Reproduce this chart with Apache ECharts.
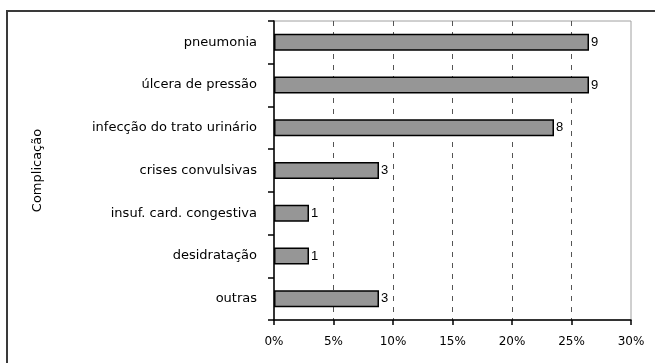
<!DOCTYPE html>
<html>
<head>
<meta charset="utf-8">
<script src="https://cdn.jsdelivr.net/npm/echarts@6/dist/echarts.min.js"></script>
<style>
  html, body { margin: 0; padding: 0; background: #fff; }
  #chart { width: 655px; height: 363px; }
</style>
</head>
<body>
<div id="chart"></div>
<script>
// Complications, listed top to bottom
const categories = [
  'pneumonia',
  'úlcera de pressão',
  'infecção do trato urinário',
  'crises convulsivas',
  'insuf. card. congestiva',
  'desidratação',
  'outras'
];
// Number of cases per complication
const counts = [9, 9, 8, 3, 1, 1, 3];
// Percentage axis ticks
const xTicks = { min: 0, max: 30, step: 5 };

const total = counts.reduce((a, b) => a + b, 0);
const shares = counts.map(c => c / total * 100);

const chart = echarts.init(document.getElementById('chart'), null, { renderer: 'canvas' });
const fontFamily = '"Liberation Sans", Arial, sans-serif';
const wideFont = '"DejaVu Sans", sans-serif';

chart.setOption({
  animation: false,
  backgroundColor: '#fff',
  graphic: [{
    type: 'rect',
    shape: { x: 7, y: 11, width: 700, height: 400 },
    style: { fill: 'none', stroke: '#3a3a3a', lineWidth: 2 },
    z: 100
  }],
  grid: {
    left: 274, right: 24, top: 21, bottom: 43,
    show: true, borderColor: '#a0a0a0', borderWidth: 1, backgroundColor: '#fff'
  },
  xAxis: {
    type: 'value',
    min: xTicks.min, max: xTicks.max, interval: xTicks.step,
    axisLine: { show: true, lineStyle: { color: '#000', width: 1.5 } },
    axisTick: { show: true, length: 5, lineStyle: { color: '#000', width: 1.5 } },
    axisLabel: {
      formatter: '{value}%', color: '#000', fontSize: 12, fontFamily: wideFont, margin: 16
    },
    splitLine: {
      show: true, showMinLine: false, showMaxLine: false,
      lineStyle: { color: '#555', type: [5, 6], width: 1 }
    }
  },
  yAxis: {
    type: 'category',
    data: categories,
    inverse: true,
    name: 'Complicação',
    nameLocation: 'middle',
    nameRotate: 90,
    nameGap: 230,
    nameTextStyle: { color: '#000', fontSize: 13, fontFamily: wideFont },
    axisLine: { show: true, lineStyle: { color: '#000', width: 1.5 } },
    axisTick: { show: true, inside: false, length: 6, lineStyle: { color: '#000', width: 1.5 } },
    axisLabel: { color: '#000', fontSize: 13, fontFamily: wideFont, margin: 17 },
    splitLine: { show: false }
  },
  series: [{
    type: 'bar',
    data: shares,
    barWidth: 17,
    itemStyle: { color: '#969696', borderColor: '#000', borderWidth: 1.5 },
    label: {
      show: true,
      position: 'right',
      distance: 2,
      color: '#000',
      fontSize: 13,
      fontFamily: fontFamily,
      formatter: p => String(counts[p.dataIndex])
    }
  }]
});
</script>
</body>
</html>
